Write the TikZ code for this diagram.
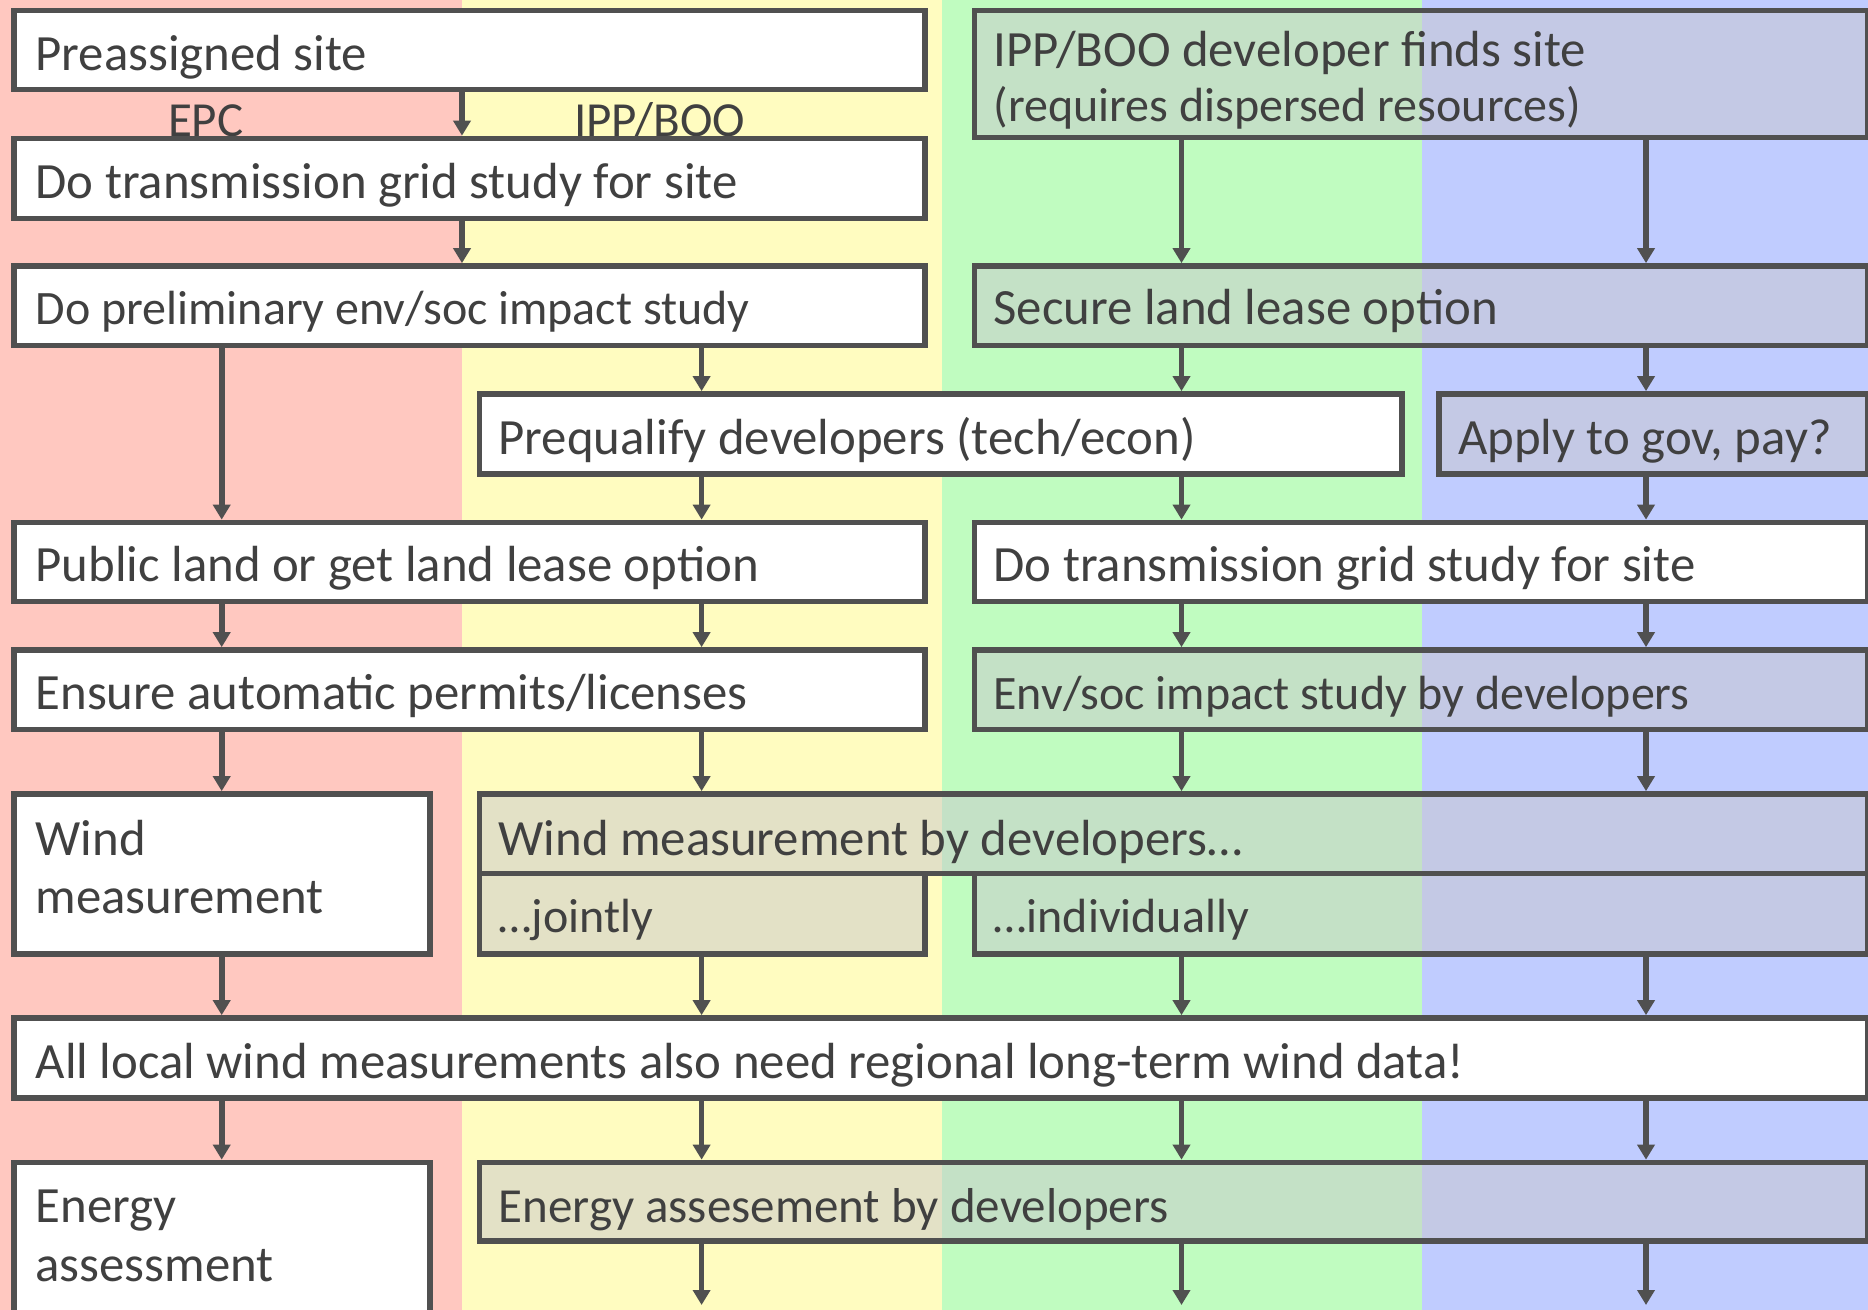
\documentclass[tikz,border=0pt]{standalone}
\usepackage{fontspec}
\setmainfont{Carlito}
\usetikzlibrary{arrows.meta,fit}

\definecolor{colEPC}{RGB}{255,200,192}
\definecolor{colIPP}{RGB}{255,252,192}
\definecolor{colDevA}{RGB}{192,252,192}
\definecolor{colDevB}{RGB}{192,204,255}
\definecolor{edge}{RGB}{80,80,80}
\definecolor{ink}{RGB}{64,64,64}
\definecolor{veil}{RGB}{200,200,204}

\begin{document}
\begin{tikzpicture}[x=0.5pt,y=-0.5pt,
  box/.style={draw=edge, line width=2.85pt, inner sep=0pt, outer sep=1.42pt, fill=white},
  shared/.style={box, fill=veil, fill opacity=0.5},
  lbl/.style={text=ink, inner sep=0pt, outer sep=0pt, anchor=base west,
              font=\fontsize{25.4}{30}\selectfont},
  lbls/.style={lbl, font=\fontsize{24}{29}\selectfont},
  lblm/.style={lbl, font=\fontsize{24.5}{29}\selectfont},
  lane/.style={lbl, font=\fontsize{24.5}{29}\selectfont},
  arr/.style={draw=edge, line width=2.85pt, -{Triangle[length=7.5pt,width=8.5pt]}},
]
\useasboundingbox (0,0) rectangle (1868,1310);
\clip (0,0) rectangle (1868,1310);

% swim lanes
\fill[colEPC]  (0,0)     rectangle (462,1310);
\fill[colIPP]  (462,0)   rectangle (941.5,1310);
\fill[colDevA] (941.5,0) rectangle (1422,1310);
\fill[colDevB] (1422,0)  rectangle (1868,1310);

% lane titles (partly covered by the next box)
\node[lane] (lane-epc) at (168,137) {EPC};
\node[lane] (lane-ipp) at (574,137) {IPP/BOO};

% columns used by the connectors
\coordinate (cA) at (221.7,0);
\coordinate (cM) at (462,0);
\coordinate (cB) at (701.6,0);
\coordinate (cC) at (1181.5,0);
\coordinate (cD) at (1646,0);
\coordinate (floor) at (0,1305);

% ---------- boxes ----------
\node[box,    fit={(14.2,10.5) (925,89.5)}]     (site) {};
\node[shared, fit={(974.5,10.5) (1868,137.5)}]  (finds) {};
\node[box,    fit={(14.2,138.5) (925,218.5)}]   (grid) {};
\node[box,    fit={(14.2,266) (925,345.5)}]     (prelim) {};
\node[shared, fit={(974.5,266) (1868,345.5)}]   (lease) {};
\node[box,    fit={(479.5,394) (1402,474)}]     (prequal) {};
\node[shared, fit={(1439,394) (1868,474)}]      (apply) {};
\node[box,    fit={(14.2,522.5) (925,601.5)}]   (land) {};
\node[box,    fit={(974.5,522.5) (1868,601.5)}] (gridR) {};
\node[box,    fit={(14.2,650) (925,729.5)}]     (permits) {};
\node[shared, fit={(974.5,650) (1868,729.5)}]   (envsoc) {};
\node[box,    fit={(14.2,794) (430,954)}]       (wind) {};
\node[shared, fit={(479.5,794) (1868,873.5)}]   (winddev) {};
\node[shared, fit={(479.5,873.5) (925,954)}]    (jointly) {};
\node[shared, fit={(974.5,873.5) (1868,954)}]   (indiv) {};
\node[box,    fit={(14.2,1018) (1868,1098)}]    (regional) {};
\node[box,    fit={(14.2,1162.5) (430,1340)}]   (energy) {};
\node[shared, fit={(479.5,1162.5) (1868,1241)}] (energydev) {};

% ---------- texts ----------
\node[lbl]  (site-t)     at (35.6,71)    {Preassigned site};
\node[lbl]  (finds-t1)   at (993.5,67)   {IPP/BOO developer finds site};
\node[lbls] (finds-t2)   at (993.5,122)  {(requires dispersed resources)};
\node[lbl]  (grid-t)     at (35.6,199)   {Do transmission grid study for site};
\node[lbls] (prelim-t)   at (35.6,325)   {Do preliminary env/soc impact study};
\node[lbl]  (lease-t)    at (993.5,325)  {Secure land lease option};
\node[lbl]  (prequal-t)  at (498.5,454)  {Prequalify developers (tech/econ)};
\node[lbl]  (apply-t)    at (1458,454)   {Apply to gov, pay?};
\node[lbl]  (land-t)     at (35.6,581)   {Public land or get land lease option};
\node[lbl]  (gridR-t)    at (993.5,581)  {Do transmission grid study for site};
\node[lbl]  (permits-t)  at (35.6,709)   {Ensure automatic permits/licenses};
\node[lbls] (envsoc-t)   at (993.5,709)  {Env/soc impact study by developers};
\node[lbl]  (wind-t1)    at (35.6,855)   {Wind};
\node[lbl]  (wind-t2)    at (35.6,913.5) {measurement};
\node[lbl]  (winddev-t)  at (498.5,855)  {Wind measurement by developers…};
\node[lbls] (jointly-t)  at (498.5,932)  {…jointly};
\node[lbls] (indiv-t)    at (993.5,932)  {…individually};
\node[lbl]  (regional-t) at (35.6,1078.5){All local wind measurements also need regional long-term wind data!};
\node[lbl]  (energy-t1)  at (35.6,1222)  {Energy};
\node[lbl]  (energy-t2)  at (35.6,1281)  {assessment};
\node[lblm] (energydev-t) at (498.5,1222) {Energy assesement by developers};

% ---------- connectors ----------
\draw[arr] (cM |- site.south) -- (cM |- grid.north);
\draw[arr] (cM |- grid.south) -- (cM |- prelim.north);
\draw[arr] (cA |- prelim.south) -- (cA |- land.north);
\draw[arr] (cB |- prelim.south) -- (cB |- prequal.north);
\draw[arr] (cB |- prequal.south) -- (cB |- land.north);
\draw[arr] (cA |- land.south) -- (cA |- permits.north);
\draw[arr] (cB |- land.south) -- (cB |- permits.north);
\draw[arr] (cA |- permits.south) -- (cA |- wind.north);
\draw[arr] (cB |- permits.south) -- (cB |- winddev.north);
\draw[arr] (cA |- wind.south) -- (cA |- regional.north);
\draw[arr] (cB |- jointly.south) -- (cB |- regional.north);
\draw[arr] (cA |- regional.south) -- (cA |- energy.north);

\foreach \c in {cC,cD} {
  \draw[arr] (\c |- finds.south) -- (\c |- lease.north);
  \draw[arr] (\c |- gridR.south) -- (\c |- envsoc.north);
  \draw[arr] (\c |- envsoc.south) -- (\c |- winddev.north);
  \draw[arr] (\c |- indiv.south) -- (\c |- regional.north);
}
\draw[arr] (cC |- lease.south) -- (cC |- prequal.north);
\draw[arr] (cD |- lease.south) -- (cD |- apply.north);
\draw[arr] (cC |- prequal.south) -- (cC |- gridR.north);
\draw[arr] (cD |- apply.south) -- (cD |- gridR.north);

\foreach \c in {cB,cC,cD} {
  \draw[arr] (\c |- regional.south) -- (\c |- energydev.north);
  \draw[arr] (\c |- energydev.south) -- (\c |- floor);
}
\end{tikzpicture}
\end{document}
